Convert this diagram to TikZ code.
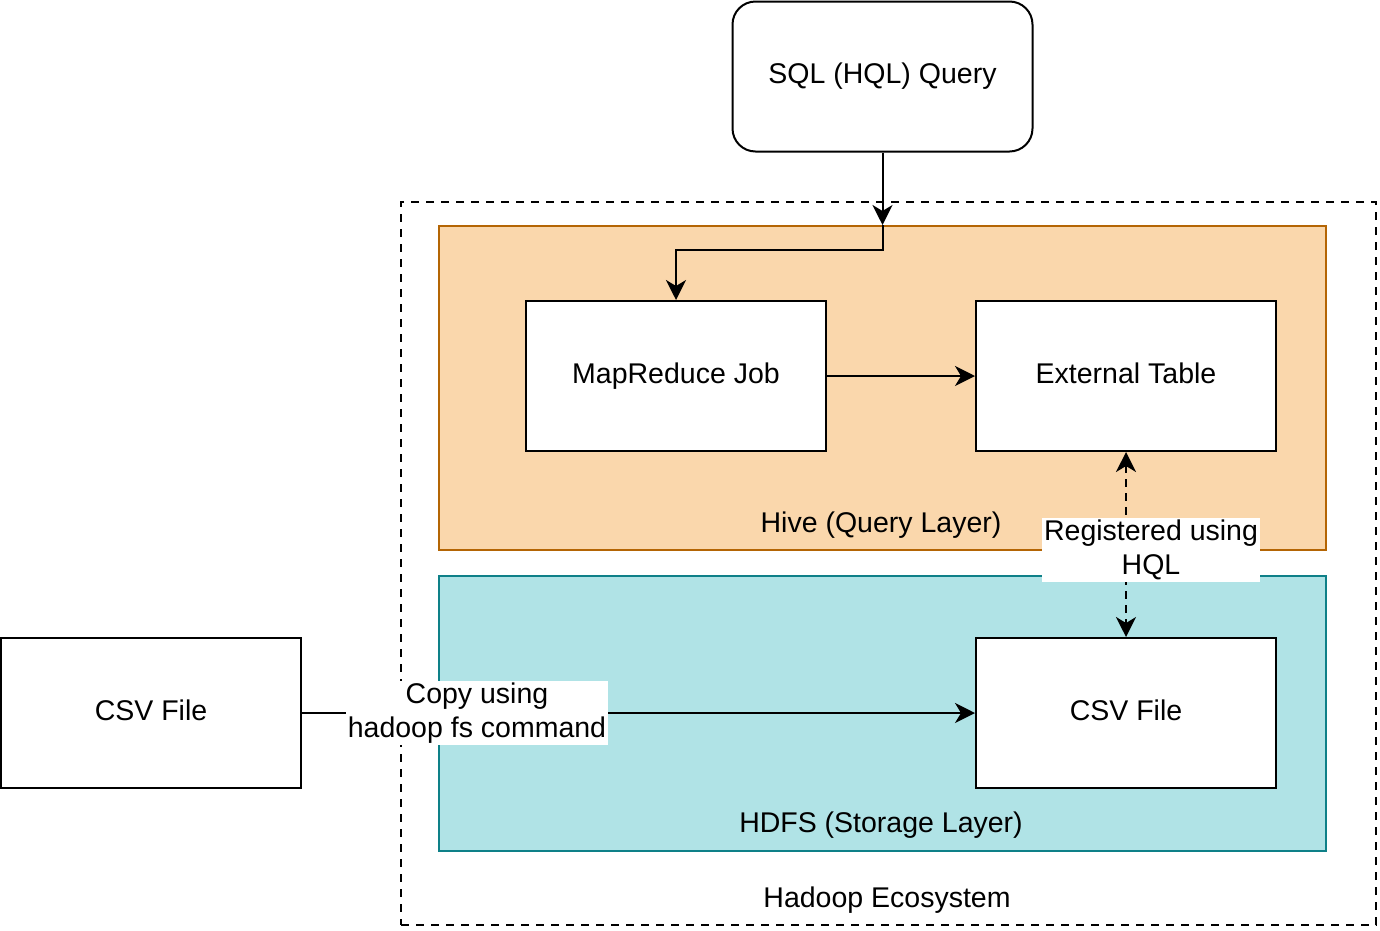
\documentclass[tikz,border=0pt]{standalone}
\usepackage{fontspec}
\setmainfont{Liberation Sans}
\usetikzlibrary{arrows.meta}
\definecolor{hivefill}{HTML}{FAD7AC}
\definecolor{hivedraw}{HTML}{B46504}
\definecolor{hdfsfill}{HTML}{B0E3E6}
\definecolor{hdfsdraw}{HTML}{0E8088}
\newcommand\dfont{\fontsize{28.5}{33.5}\selectfont}
\begin{document}
\begin{tikzpicture}[x=1pt,y=-1pt,
  box/.style={draw, line width=2pt, fill=white, minimum width=300pt, minimum height=150pt, inner sep=0pt, font=\dfont, text height=20.5pt, text depth=6pt},
  layer/.style={line width=2pt, minimum width=887pt, inner sep=0pt},
  txt/.style={font=\dfont, inner sep=0pt, text height=20.5pt, text depth=6pt},
  lbl/.style={fill=white, font=\dfont, align=center, inner sep=2pt},
  tip/.style={Stealth[length=20pt,width=20pt,inset=6pt]},
  arr/.style={line width=2pt, -{Stealth[length=20pt,width=20pt,inset=6pt]}}
]
\useasboundingbox (0,0) rectangle (1380,930);
% outer dashed container
\node[draw, line width=2pt, dash pattern=on 8pt off 7pt, minimum width=975pt, minimum height=723pt, inner sep=0pt] (eco) at (888.5,563.5) {};
\node[txt] (ecolabel) at (887,900) {Hadoop Ecosystem};
% layers
\node[layer, draw=hivedraw, fill=hivefill, minimum height=324pt] (hive) at (882.5,388) {};
\node[txt] (hivelabel) at (881,525) {Hive (Query Layer)};
\node[layer, draw=hdfsdraw, fill=hdfsfill, minimum height=275pt] (hdfs) at (882.5,713.5) {};
\node[txt] (hdfslabel) at (881,825) {HDFS (Storage Layer)};
% boxes
\node[box, rounded corners=23pt] (sql) at (882.5,76.5) {SQL (HQL) Query};
\node[box] (mr) at (676,376) {MapReduce Job};
\node[box] (ext) at (1126,376) {External Table};
\node[box] (csvh) at (1126,713) {CSV File};
\node[box] (csvl) at (151,713) {CSV File};
% connectors
\coordinate (hivetop) at (sql.south |- hive.north);
\draw[arr] (sql.south) -- (hivetop);
\draw[arr] (hivetop) -- ++(0,25) -| (mr.north);
\draw[arr] (mr) -- (ext);
\draw[line width=2pt, dash pattern=on 8pt off 6pt, {Stealth[length=20pt,width=20pt,inset=6pt]}-{Stealth[length=20pt,width=20pt,inset=6pt]}] (ext.south) -- (csvh.north)
  node[lbl, pos=0.53, xshift=25pt] {Registered using\\HQL};
\draw[arr] (csvl.east) -- (csvh.west)
  node[lbl, pos=0.26] {Copy using\\hadoop fs command};
\end{tikzpicture}
\end{document}
